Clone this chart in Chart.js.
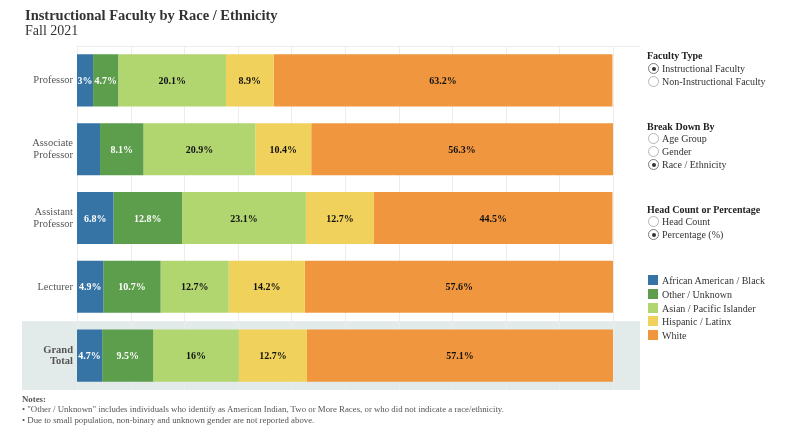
<!DOCTYPE html>
<html>
<head>
<meta charset="utf-8">
<script src="https://cdn.jsdelivr.net/npm/chart.js@4.4.0/dist/chart.umd.min.js"></script>
<style>
  html,body{margin:0;padding:0;background:#fff;}
  body{width:792px;height:440px;position:relative;overflow:hidden;font-family:"Liberation Serif","Times New Roman",serif;}
  #wrap{position:absolute;left:0;top:0;width:792px;height:440px;}
  .t{position:absolute;white-space:nowrap;line-height:1.2;}
  #title{left:25px;top:7px;font-size:14.5px;font-weight:bold;color:#333;}
  #sub{left:25px;top:23px;font-size:14px;color:#333;}
  .ph{font-size:10px;font-weight:bold;color:#222;left:647px;}
  .ri{font-size:10px;color:#333;left:648px;}
  .ri span.r{display:inline-block;width:9px;height:9px;border:1px solid #b5b5b5;border-radius:50%;vertical-align:-2px;margin-right:3px;position:relative;box-sizing:content-box;}
  .ri span.r.on{border-color:#777;}
  .ri span.r.on::after{content:"";position:absolute;left:2.5px;top:2.5px;width:4px;height:4px;border-radius:50%;background:#333;}
  .lg{font-size:10px;color:#333;left:648px;}
  .lg span.s{display:inline-block;width:10px;height:10px;vertical-align:-1px;margin-right:4px;}
  .note{left:22px;font-size:8.8px;color:#555;}
</style>
</head>
<body>
<div id="wrap"><canvas id="c" width="792" height="440"></canvas></div>
<div class="t" id="title">Instructional Faculty by Race / Ethnicity</div>
<div class="t" id="sub">Fall 2021</div>

<div class="t ph" style="top:50px">Faculty Type</div>
<div class="t ri" style="top:63px"><span class="r on"></span>Instructional Faculty</div>
<div class="t ri" style="top:76px"><span class="r"></span>Non-Instructional Faculty</div>

<div class="t ph" style="top:121px">Break Down By</div>
<div class="t ri" style="top:133px"><span class="r"></span>Age Group</div>
<div class="t ri" style="top:146px"><span class="r"></span>Gender</div>
<div class="t ri" style="top:159px"><span class="r on"></span>Race / Ethnicity</div>

<div class="t ph" style="top:204px">Head Count or Percentage</div>
<div class="t ri" style="top:216px"><span class="r"></span>Head Count</div>
<div class="t ri" style="top:229px"><span class="r on"></span>Percentage (%)</div>

<div id="legend"></div>

<div class="t note" style="top:394px;font-weight:bold;">Notes:</div>
<div class="t note" style="top:404px">• "Other / Unknown" includes individuals who identify as American Indian, Two or More Races, or who did not indicate a race/ethnicity.</div>
<div class="t note" style="top:415px">• Due to small population, non-binary and unknown gender are not reported above.</div>

<script>
const categories = [["Professor"], ["Associate","Professor"], ["Assistant","Professor"], ["Lecturer"], ["Grand","Total"]];
const seriesNames = ["African American / Black", "Other / Unknown", "Asian / Pacific Islander", "Hispanic / Latinx", "White"];
const seriesColors = ["#3574a5", "#5d9e4c", "#b1d56f", "#efd15b", "#f0963f"];
const labelColors = ["#ffffff", "#ffffff", "#111111", "#111111", "#111111"];
const black    = [3.0, 4.3, 6.8, 4.9, 4.7];
const other    = [4.7, 8.1, 12.8, 10.7, 9.5];
const asian    = [20.1, 20.9, 23.1, 12.7, 16.0];
const hispanic = [8.9, 10.4, 12.7, 14.2, 12.7];
const white    = [63.2, 56.3, 44.5, 57.6, 57.1];
const shownLabels = [
  ["3%", "", "6.8%", "4.9%", "4.7%"],
  ["4.7%", "8.1%", "12.8%", "10.7%", "9.5%"],
  ["20.1%", "20.9%", "23.1%", "12.7%", "16%"],
  ["8.9%", "10.4%", "12.7%", "14.2%", "12.7%"],
  ["63.2%", "56.3%", "44.5%", "57.6%", "57.1%"]
];
const xTicks = [0,10,20,30,40,50,60,70,80,90,100];

const seriesData = [black, other, asian, hispanic, white];

// legend (HTML)
const lg = document.getElementById('legend');
seriesNames.forEach((n,i)=>{
  const d = document.createElement('div');
  d.className = 't lg';
  d.style.top = (275 + i*13.75) + 'px';
  d.innerHTML = '<span class="s" style="background:'+seriesColors[i]+'"></span>' + n;
  lg.appendChild(d);
});

const bandPlugin = {
  id: 'band',
  beforeDraw(chart){
    const {ctx, scales:{y}} = chart;
    const idx = 4;
    const half = (y.getPixelForValue(1) - y.getPixelForValue(0)) / 2;
    const cy = y.getPixelForValue(idx);
    ctx.save();
    ctx.fillStyle = '#e2ebea';
    ctx.fillRect(22, cy - half, 640 - 22, half*2);
    ctx.restore();
  }
};

const gridPlugin = {
  id: 'gridOver',
  beforeDatasetsDraw(chart){
    const {ctx, chartArea, scales:{x}} = chart;
    ctx.save();
    ctx.strokeStyle = '#ededed';
    ctx.lineWidth = 1;
    xTicks.forEach(v=>{
      const px = Math.round(x.getPixelForValue(v)) + 0.5;
      ctx.beginPath(); ctx.moveTo(px, chartArea.top); ctx.lineTo(px, chartArea.bottom); ctx.stroke();
    });
    ctx.beginPath(); ctx.moveTo(chartArea.left, chartArea.top + 0.5); ctx.lineTo(640, chartArea.top + 0.5); ctx.stroke();
    ctx.restore();
  }
};

const labelPlugin = {
  id: 'barLabels',
  afterDatasetsDraw(chart){
    const {ctx} = chart;
    ctx.save();
    ctx.font = 'bold 10px "Liberation Serif", serif';
    ctx.textAlign = 'center';
    ctx.textBaseline = 'middle';
    chart.data.datasets.forEach((ds, di)=>{
      const meta = chart.getDatasetMeta(di);
      meta.data.forEach((bar, i)=>{
        const txt = shownLabels[di][i];
        if(!txt) return;
        const left = bar.base, right = bar.x;
        ctx.fillStyle = labelColors[di];
        ctx.fillText(txt, (left+right)/2, bar.y + 1);
      });
    });
    ctx.restore();
  }
};

new Chart(document.getElementById('c'), {
  type: 'bar',
  data: {
    labels: categories,
    datasets: seriesData.map((d,i)=>({
      label: seriesNames[i],
      data: d,
      backgroundColor: seriesColors[i],
      borderWidth: 0,
      categoryPercentage: 1.0,
      barPercentage: 0.757
    }))
  },
  options: {
    indexAxis: 'y',
    responsive: false,
    animation: false,
    events: [],
    layout: { padding: { left: 0, top: 46, right: 179, bottom: 50 } },
    plugins: { legend: { display: false }, tooltip: { enabled: false } },
    scales: {
      x: {
        stacked: true, min: 0, max: 100,
        display: false
      },
      y: {
        stacked: true,
        grid: { display: false, drawTicks: false },
        border: { display: false },
        afterFit(scale){ scale.width = 77; },
        ticks: {
          color: '#555',
          padding: 4,
          font: (ctx) => ({ family: '"Liberation Serif", serif', size: 10.5, weight: ctx.index === 4 ? 'bold' : 'normal', lineHeight: 1.1 })
        }
      }
    }
  },
  plugins: [bandPlugin, gridPlugin, labelPlugin]
});
</script>
</body>
</html>
